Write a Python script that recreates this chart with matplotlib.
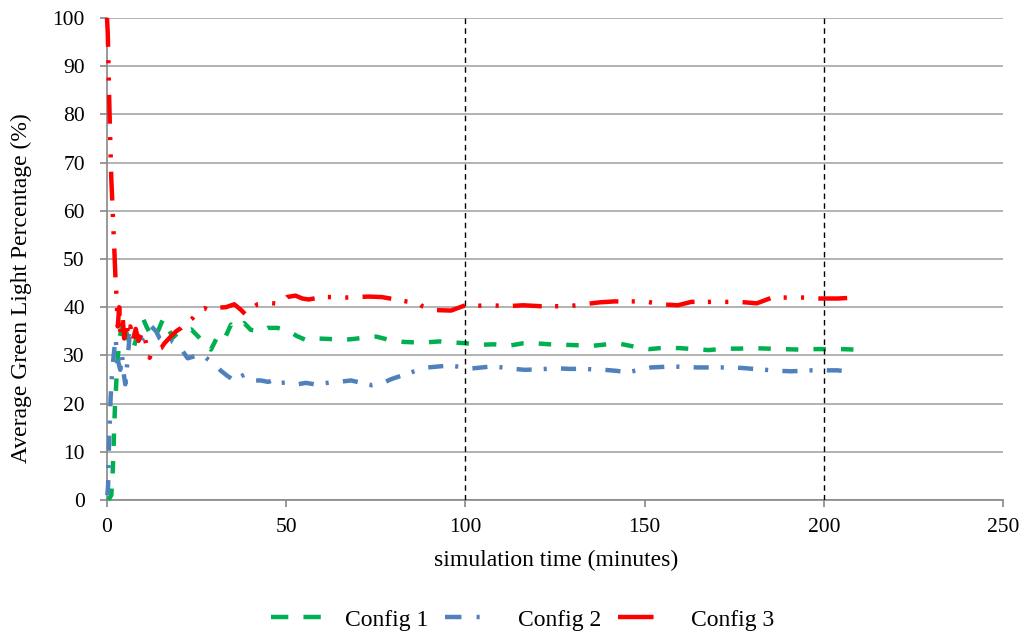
import matplotlib.pyplot as plt
from matplotlib.lines import Line2D

# Config 1 (green)
t1 = [0.3, 0.8, 1.2, 1.4, 1.6, 1.8, 2.0, 2.2, 2.5, 2.8, 3.2, 3.6, 4.2, 4.9, 5.3, 6.3, 7.2, 8.1,
      9.2, 10.2, 11.0, 11.9, 13.3, 14.5, 15.6, 16.5, 18.4, 19.8, 21.5, 23.5, 24.4, 26.0, 27.2,
      29.0, 30.9, 32.7, 34.6, 35.5, 37.0, 38.3, 40.1, 42.9, 44.8, 47.6, 50.4, 53.0, 55.8, 59.0,
      62.2, 65.5, 68.7, 72.0, 75.1, 78.8, 82.6, 86.0, 89.0, 92.8, 96.6, 100.3, 104.0, 108.0,
      112.1, 116.0, 119.6, 123.6, 127.7, 131.7, 135.7, 139.5, 143.2, 147.2, 151.3, 155.6, 159.9,
      164.0, 168.0, 172.0, 176.0, 180.3, 184.6, 188.9, 193.2, 197.5, 201.8, 205.3, 208.8]
v1 = [0, 0.5, 1, 3.5, 6, 10, 15, 19, 23, 28, 31, 34, 36, 33.5, 35, 32.5, 31, 33.3,
      35.5, 37.4, 36, 34.7, 33.7, 35.5, 37.5, 36.4, 33.7, 34.7, 35, 35.4, 34.7, 33.5, 32.6,
      31.2, 34, 33.3, 36.4, 35.7, 36, 36.7, 35.3, 35, 35.7, 35.7, 35.2, 34, 33.1, 33.5,
      33.4, 33.2, 33.4, 33.7, 33.9, 33.2, 32.8, 32.7, 32.7, 32.9, 32.7, 32.5, 32.2, 32.3,
      32, 32.5, 32.5, 32.3, 32.2, 32.1, 32, 32.3, 32.4, 31.8, 31.3, 31.6, 31.5,
      31.3, 31.1, 31.4, 31.4, 31.5, 31.4, 31.3, 31.2, 31.3, 31.3, 31.3, 31.2]

# Config 2 (blue)
t2 = [0.1, 0.3, 0.4, 0.5, 0.6, 0.8, 1.0, 1.3, 1.6, 2.0, 2.4, 2.8, 3.2, 3.7, 4.2, 4.6, 5.1, 5.6,
      6.3, 7.5, 8.6, 10.0, 11.9, 12.4, 13.7, 14.7, 16.5, 18.0, 19.0, 19.8, 21.0, 22.5, 24.4,
      25.3, 27.6, 29.9, 31.8, 33.5, 35.5, 37.0, 38.3, 40.1, 42.9, 45.0, 47.0, 48.5, 50.4, 53.1,
      55.5, 57.9, 60.5, 63.3, 65.7, 68.1, 71.0, 74.0, 76.7, 79.4, 81.8, 84.2, 86.9, 89.6, 92.5,
      95.5, 98.7, 101.9, 104.6, 107.3, 110.5, 113.7, 116.6, 119.6, 122.8, 126.0, 129.2, 132.5,
      135.7, 138.9, 142.1, 145.3, 148.5, 151.8, 154.7, 157.7, 161.2, 164.7, 167.6, 170.5, 173.7,
      177.0, 180.4, 183.9, 187.4, 190.9, 193.8, 196.8, 200.3, 203.8, 205.0]
v2 = [1, 3, 6.5, 10, 12.7, 16.5, 21, 25, 28, 31, 33.5, 30, 28.5, 27, 30, 26.5, 24, 28,
      34, 33.5, 34, 33.5, 35, 36, 35, 33.5, 32.5, 33, 32.5, 32, 31, 29.4, 29.8,
      29.5, 29.5, 28.2, 26.8, 25.8, 24.8, 25.5, 26, 24.8, 24.8, 24.5, 25, 24.3, 24.4, 24,
      24.3, 24, 24.2, 24.5, 24.6, 24.8, 24.3, 23.8, 24.2, 25.1, 25.7, 26.3, 27, 27.5, 27.7,
      27.9, 27.6, 27.3, 27.5, 27.7, 27.5, 27.2, 27, 27.1, 27.2, 27.3, 27.2, 27.2,
      27.1, 27, 26.8, 26.5, 27, 27.5, 27.6, 27.7, 27.6, 27.5, 27.5, 27.5, 27.5,
      27.4, 27.2, 27, 26.8, 26.7, 26.8, 26.9, 26.9, 26.9, 26.8]

# Config 3 (red)
t3 = [0.0, 0.2, 0.3, 0.4, 0.5, 0.6, 0.7, 0.8, 1.0, 1.2, 1.4, 1.6, 1.8, 2.0, 2.2, 2.4, 2.7, 3.0,
      3.4, 3.8, 4.3, 4.8, 5.3, 5.9, 6.5, 7.2, 8.0, 8.8, 9.7, 10.6, 11.2, 11.9, 12.8, 13.9, 15.1,
      16.0, 17.9, 19.3, 20.7, 21.6, 24.0, 25.8, 27.2, 28.6, 30.9, 33.2, 35.5, 37.3, 38.5, 39.2,
      42.0, 44.8, 48.3, 50.2, 52.6, 54.5, 56.3, 59.8, 63.3, 66.5, 69.7, 73.0, 76.7, 80.5, 83.5,
      87.0, 88.0, 91.7, 96.0, 100.0, 103.5, 107.3, 111.6, 116.1, 121.0, 125.0, 128.8, 133.0,
      137.4, 141.6, 146.0, 150.2, 154.5, 159.3, 163.0, 167.5, 172.2, 176.5, 181.3, 185.6, 190.0,
      194.8, 199.0, 203.9, 209.0]
v3 = [100, 97, 94, 90.6, 87, 83.7, 80.5, 77.5, 72, 66.6, 63.2, 59.7, 56, 52.8, 48.9, 45.5, 41.6, 36,
      40, 34, 38.5, 33.5, 37, 34, 36, 33, 35.5, 33, 35, 33.5, 31.3, 29.5, 31, 31.2, 31.5,
      32.5, 34, 35, 35.7, 36.4, 37.8, 39.5, 39.8, 39.3, 39.9, 40, 40.6, 39.5, 38.6, 39.2,
      40.6, 40.9, 40.7, 42.1, 42.4, 41.8, 41.6, 42.1, 42.1, 42.0, 42.1, 42.2, 42.1, 41.6, 41.2,
      40.9, 40.2, 39.4, 39.3, 40.4, 40.3, 40.4, 40.2, 40.4, 40.2, 40.2, 40.2, 40.6,
      41, 41.2, 41.2, 41.2, 40.6, 40.4, 41.1, 41.1, 41.1, 41.1, 40.8, 42, 42,
      42, 41.8, 41.8, 42]

labels = ["Config 1", "Config 2", "Config 3"]
colors = ["#00B050", "#4F81BD", "#FF0000"]

plt.rcParams['font.family'] = ['Liberation Serif', 'DejaVu Serif']

fig = plt.figure(figsize=(10.25, 6.35), dpi=100)
ax = fig.add_axes([0.1044, 0.2126, 0.8741, 0.7591])

lw = 3.2
d1 = (2.8, 3.4)
d2 = (3.4, 2.7, 0.7, 3.2)
d3 = (6.5, 3.0, 0.7, 3.2, 0.7, 3.2)
ax.plot(t1, v1, color=colors[0], lw=lw, dashes=d1, clip_on=False, zorder=3)
ax.plot(t2, v2, color=colors[1], lw=lw, dashes=d2, clip_on=False, zorder=3)
ax.plot(t3, v3, color=colors[2], lw=lw, dashes=d3, clip_on=False, zorder=3)

ax.axvline(100, color='black', lw=1.0, dashes=(4, 3), zorder=4)
ax.axvline(200, color='black', lw=1.0, dashes=(4, 3), zorder=4)

ax.set_xlim(0, 250)
ax.set_ylim(0, 100)
ax.set_xticks(range(0, 251, 50))
ax.set_yticks(range(0, 101, 10))
ax.yaxis.grid(True, color='#a6a6a6', lw=1.2)
ax.set_axisbelow(True)
for s in ['top', 'right']:
    ax.spines[s].set_visible(False)
for s in ['left', 'bottom']:
    ax.spines[s].set_color('#888888')
    ax.spines[s].set_linewidth(1.2)
ax.tick_params(colors='#888888', length=5, width=1.2, labelcolor='black', labelsize=15.5)
ax.tick_params(axis='y', pad=11)
ax.tick_params(axis='x', pad=8)

ax.set_xlabel("simulation time (minutes)", fontsize=17)
ax.set_ylabel("Average Green Light Percentage (%)", fontsize=17)
ax.xaxis.set_label_coords(0.501, -0.104)
ax.yaxis.set_label_coords(-0.084, 0.44)

handles = [
    Line2D([], [], color=colors[0], lw=lw, dashes=(3.9, 3.4)),
    Line2D([], [], color=colors[1], lw=lw, dashes=(3.7, 3.4, 0.7, 4.0)),
    Line2D([], [], color=colors[2], lw=lw, dashes=(8.0, 4.0)),
]
fig.legend(handles, labels, loc='center', bbox_to_anchor=(0.51, 0.024), ncol=3,
           frameon=False, fontsize=17, handlelength=2.1, handletextpad=1.0,
           columnspacing=0.7)

fig.savefig("out.png", dpi=100)
